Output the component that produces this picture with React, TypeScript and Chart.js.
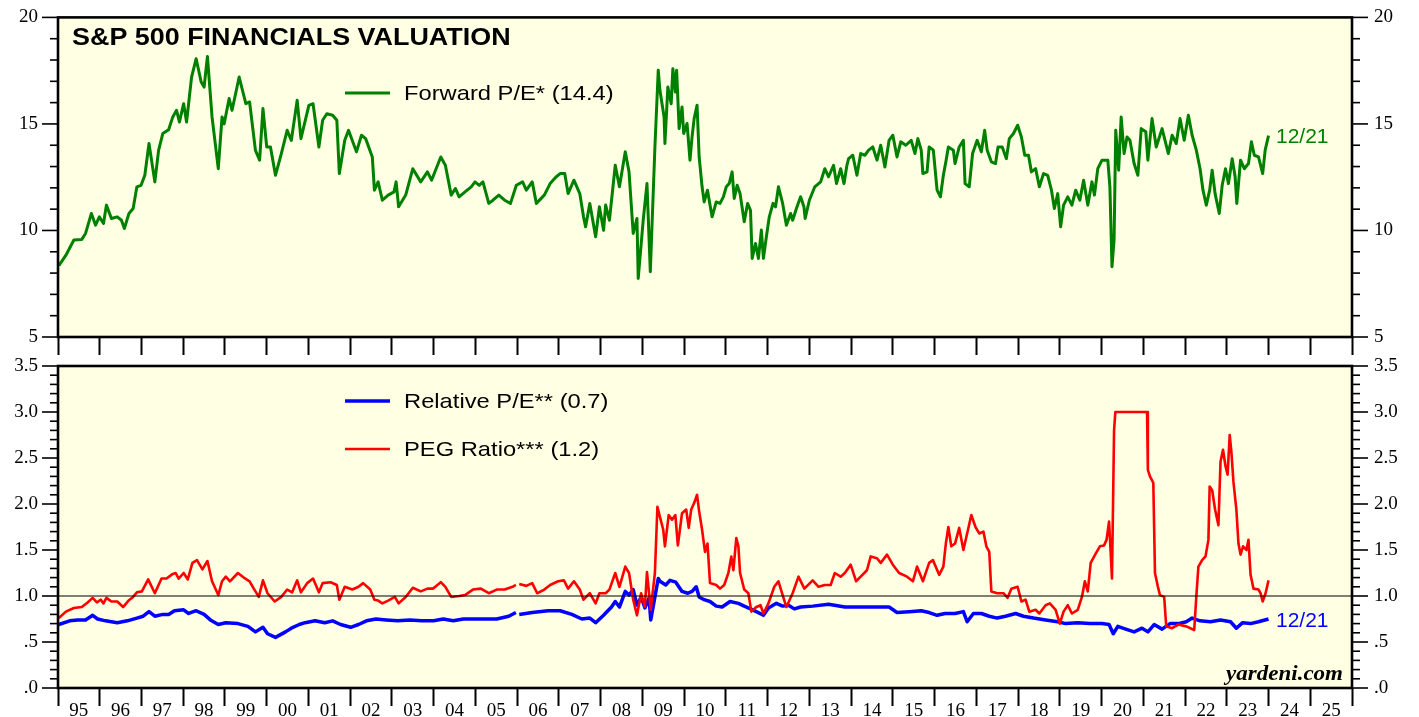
import { useEffect, useRef } from 'react';
import { Chart, registerables } from 'chart.js';

Chart.register(...registerables);

// ---------------- DATA ----------------
const yearTicks = [1995, 1996, 1997, 1998, 1999, 2000, 2001, 2002, 2003, 2004, 2005, 2006, 2007, 2008, 2009, 2010, 2011, 2012, 2013, 2014, 2015, 2016, 2017, 2018, 2019, 2020, 2021, 2022, 2023, 2024, 2025, 2026];
const yearLabels = ['95', '96', '97', '98', '99', '00', '01', '02', '03', '04', '05', '06', '07', '08', '09', '10', '11', '12', '13', '14', '15', '16', '17', '18', '19', '20', '21', '22', '23', '24', '25'];

const peTickLabels = ['5', '10', '15', '20'];
const ratioTickLabels = ['.0', '.5', '1.0', '1.5', '2.0', '2.5', '3.0', '3.5'];

const peDates = [
  1995.02, 1995.19, 1995.38, 1995.57, 1995.66, 1995.80, 1995.90, 1995.99, 1996.09, 1996.16,
  1996.28, 1996.42, 1996.52, 1996.59, 1996.70, 1996.80, 1996.89, 1996.99, 1997.08, 1997.18,
  1997.32, 1997.41, 1997.51, 1997.65, 1997.75, 1997.84, 1997.91, 1998.01, 1998.08, 1998.20,
  1998.31, 1998.43, 1998.50, 1998.58, 1998.69, 1998.84, 1998.93, 1998.98, 1999.10, 1999.17,
  1999.34, 1999.50, 1999.59, 1999.73, 1999.83, 1999.91, 2000.00, 2000.09, 2000.21, 2000.35,
  2000.49, 2000.59, 2000.73, 2000.82, 2001.01, 2001.11, 2001.25, 2001.34, 2001.44, 2001.58,
  2001.68, 2001.74, 2001.87, 2001.96, 2002.15, 2002.27, 2002.37, 2002.53, 2002.58, 2002.67,
  2002.77, 2002.91, 2003.05, 2003.10, 2003.16, 2003.33, 2003.50, 2003.69, 2003.85, 2003.95,
  2004.17, 2004.28, 2004.42, 2004.52, 2004.61, 2004.75, 2004.90, 2004.99, 2005.09, 2005.18,
  2005.32, 2005.42, 2005.56, 2005.70, 2005.84, 2005.98, 2006.13, 2006.22, 2006.36, 2006.46,
  2006.65, 2006.79, 2006.93, 2007.03, 2007.14, 2007.22, 2007.36, 2007.50, 2007.59, 2007.64,
  2007.74, 2007.88, 2007.97, 2008.07, 2008.12, 2008.21, 2008.35, 2008.45, 2008.59, 2008.68,
  2008.78, 2008.87, 2008.90, 2009.02, 2009.11, 2009.19, 2009.30, 2009.38, 2009.42, 2009.52,
  2009.54, 2009.61, 2009.69, 2009.73, 2009.79, 2009.82, 2009.88, 2009.95, 2009.99, 2010.07,
  2010.14, 2010.19, 2010.24, 2010.31, 2010.36, 2010.43, 2010.48, 2010.56, 2010.62, 2010.67,
  2010.77, 2010.86, 2010.94, 2011.01, 2011.08, 2011.15, 2011.20, 2011.27, 2011.34, 2011.44,
  2011.52, 2011.59, 2011.63, 2011.71, 2011.78, 2011.85, 2011.90, 2011.97, 2012.04, 2012.13,
  2012.19, 2012.26, 2012.36, 2012.45, 2012.55, 2012.60, 2012.69, 2012.79, 2012.87, 2012.90,
  2013.00, 2013.13, 2013.27, 2013.37, 2013.46, 2013.58, 2013.65, 2013.75, 2013.83, 2013.90,
  2013.94, 2014.04, 2014.14, 2014.23, 2014.33, 2014.42, 2014.52, 2014.62, 2014.71, 2014.81,
  2014.91, 2015.00, 2015.10, 2015.19, 2015.31, 2015.44, 2015.53, 2015.60, 2015.68, 2015.72,
  2015.82, 2015.87, 2015.97, 2016.06, 2016.14, 2016.21, 2016.27, 2016.33, 2016.45, 2016.49,
  2016.59, 2016.69, 2016.73, 2016.83, 2016.91, 2017.02, 2017.12, 2017.20, 2017.26, 2017.36,
  2017.46, 2017.52, 2017.62, 2017.72, 2017.79, 2017.89, 2017.99, 2018.08, 2018.16, 2018.25,
  2018.32, 2018.42, 2018.51, 2018.61, 2018.71, 2018.80, 2018.87, 2018.95, 2019.02, 2019.09,
  2019.19, 2019.29, 2019.38, 2019.48, 2019.57, 2019.67, 2019.77, 2019.83, 2019.91, 2020.01,
  2020.15, 2020.20, 2020.25, 2020.30, 2020.34, 2020.41, 2020.47, 2020.54, 2020.61, 2020.68,
  2020.78, 2020.87, 2020.95, 2021.06, 2021.11, 2021.21, 2021.31, 2021.45, 2021.60, 2021.69,
  2021.79, 2021.88, 2021.98, 2022.08, 2022.17, 2022.27, 2022.36, 2022.43, 2022.51, 2022.59,
  2022.65, 2022.72, 2022.82, 2022.89, 2022.97, 2023.04, 2023.13, 2023.20, 2023.24, 2023.33,
  2023.42, 2023.52, 2023.59, 2023.66, 2023.76, 2023.86, 2023.92, 2024.00,
];
const peValues = [
  8.35, 8.84, 9.55, 9.58, 9.86, 10.80, 10.25, 10.64, 10.33, 11.19,
  10.56, 10.64, 10.48, 10.09, 10.80, 11.03, 12.05, 12.12, 12.59, 14.08,
  12.28, 13.76, 14.55, 14.73, 15.33, 15.64, 15.09, 15.95, 15.09, 17.20,
  18.06, 16.97, 16.73, 18.17, 15.33, 12.90, 15.33, 15.00, 16.19, 15.64,
  17.20, 15.95, 16.03, 13.76, 13.30, 15.72, 13.92, 13.92, 12.59, 13.61,
  14.70, 14.23, 16.11, 14.31, 15.87, 15.95, 13.92, 15.17, 15.48, 15.41,
  15.17, 12.67, 14.23, 14.70, 13.69, 14.47, 14.31, 13.45, 11.89, 12.28,
  11.42, 11.66, 11.81, 12.28, 11.11, 11.66, 12.90, 12.28, 12.75, 12.36,
  13.45, 13.06, 11.66, 11.97, 11.58, 11.81, 12.05, 12.28, 12.12, 12.28,
  11.27, 11.42, 11.66, 11.42, 11.27, 12.12, 12.28, 11.89, 12.28, 11.27,
  11.66, 12.20, 12.51, 12.67, 12.67, 11.73, 12.36, 11.73, 10.64, 10.17,
  11.27, 9.70, 11.11, 10.01, 11.19, 10.48, 13.06, 12.05, 13.69, 12.75,
  9.86, 10.56, 7.75, 10.48, 12.20, 8.06, 13.92, 17.52, 16.58, 15.33,
  14.08, 16.73, 15.95, 17.59, 16.50, 17.52, 14.78, 15.80, 14.55, 15.02,
  13.30, 14.39, 15.25, 15.88, 13.45, 12.05, 11.34, 11.89, 11.19, 10.64,
  11.34, 11.27, 11.58, 12.05, 12.20, 12.75, 11.50, 12.12, 11.73, 10.41,
  11.27, 10.95, 8.69, 9.39, 8.69, 10.02, 8.69, 9.70, 10.64, 11.27,
  11.11, 12.05, 11.27, 10.25, 10.80, 10.48, 11.03, 11.58, 11.11, 10.56,
  11.42, 12.05, 12.28, 12.90, 12.52, 13.06, 12.20, 12.90, 12.20, 13.06,
  13.37, 13.53, 12.59, 13.61, 13.53, 13.77, 13.92, 13.30, 14.00, 12.98,
  14.23, 14.47, 13.45, 14.16, 14.00, 14.23, 13.61, 14.31, 13.77, 12.67,
  12.75, 13.92, 13.77, 11.89, 11.58, 12.59, 13.22, 13.92, 13.77, 13.14,
  13.92, 14.23, 12.20, 12.05, 13.61, 14.23, 13.69, 14.70, 13.77, 13.22,
  13.14, 13.92, 13.92, 13.37, 14.31, 14.55, 14.94, 14.39, 13.53, 13.53,
  12.75, 12.90, 12.05, 12.67, 12.59, 11.89, 11.03, 11.73, 10.17, 11.19,
  11.58, 11.19, 11.89, 11.42, 12.36, 11.19, 12.28, 11.66, 12.90, 13.30,
  13.30, 12.05, 8.30, 9.55, 14.70, 12.83, 15.33, 13.61, 14.39, 14.23,
  13.14, 12.59, 14.78, 14.63, 13.30, 15.25, 13.92, 14.78, 13.61, 14.47,
  14.08, 15.25, 14.23, 15.41, 14.47, 13.77, 12.90, 11.89, 11.19, 11.89,
  12.83, 11.73, 10.80, 12.12, 12.90, 12.20, 13.37, 12.52, 11.27, 13.30,
  12.90, 13.14, 14.16, 13.53, 13.45, 12.67, 13.77, 14.45,
];

const relDates = [
  1995.02, 1995.28, 1995.47, 1995.66, 1995.83, 1995.95, 1996.14, 1996.42, 1996.66, 1996.89,
  1997.04, 1997.18, 1997.32, 1997.51, 1997.65, 1997.79, 1998.01, 1998.13, 1998.31, 1998.50,
  1998.65, 1998.84, 1999.02, 1999.31, 1999.55, 1999.73, 1999.91, 2000.02, 2000.21, 2000.45,
  2000.59, 2000.78, 2000.92, 2001.16, 2001.39, 2001.58, 2001.77, 2002.01, 2002.20, 2002.39,
  2002.62, 2002.86, 2003.14, 2003.43, 2003.71, 2004.00, 2004.23, 2004.47, 2004.71, 2004.94,
  2005.23, 2005.51, 2005.80, 2005.97, 2006.02, 2006.05, 2006.36, 2006.74, 2007.03, 2007.31,
  2007.55, 2007.74, 2007.88, 2008.07, 2008.26, 2008.35, 2008.45, 2008.59, 2008.68, 2008.78,
  2008.87, 2008.97, 2009.06, 2009.16, 2009.20, 2009.30, 2009.38, 2009.42, 2009.56, 2009.66,
  2009.80, 2009.95, 2010.09, 2010.19, 2010.29, 2010.36, 2010.48, 2010.62, 2010.77, 2010.91,
  2011.10, 2011.30, 2011.44, 2011.59, 2011.73, 2011.90, 2012.02, 2012.21, 2012.36, 2012.50,
  2012.64, 2012.79, 2013.08, 2013.46, 2013.85, 2014.23, 2014.62, 2014.91, 2015.10, 2015.39,
  2015.68, 2015.87, 2016.06, 2016.25, 2016.49, 2016.69, 2016.78, 2016.93, 2017.12, 2017.31,
  2017.50, 2017.70, 2017.94, 2018.13, 2018.37, 2018.66, 2018.95, 2019.14, 2019.43, 2019.72,
  2020.01, 2020.18, 2020.28, 2020.39, 2020.58, 2020.78, 2020.97, 2021.11, 2021.26, 2021.45,
  2021.64, 2021.84, 2022.03, 2022.17, 2022.36, 2022.61, 2022.85, 2023.09, 2023.23, 2023.38,
  2023.57, 2023.76, 2024.00,
];
const relValues = [
  0.69, 0.73, 0.74, 0.74, 0.79, 0.75, 0.73, 0.71, 0.73, 0.76,
  0.78, 0.83, 0.78, 0.80, 0.80, 0.84, 0.85, 0.81, 0.84, 0.80,
  0.74, 0.69, 0.71, 0.70, 0.67, 0.61, 0.66, 0.59, 0.55, 0.61,
  0.65, 0.69, 0.71, 0.73, 0.71, 0.73, 0.69, 0.66, 0.69, 0.73,
  0.75, 0.74, 0.73, 0.74, 0.73, 0.73, 0.75, 0.73, 0.75, 0.75,
  0.75, 0.75, 0.78, 0.82, null, 0.80, 0.82, 0.84, 0.84, 0.80,
  0.75, 0.76, 0.71, 0.79, 0.88, 0.94, 0.88, 1.05, 1.01, 1.07,
  0.90, 0.99, 0.87, 0.98, 0.74, 0.99, 1.19, 1.16, 1.12, 1.17,
  1.15, 1.05, 1.03, 1.05, 1.10, 0.99, 0.96, 0.94, 0.89, 0.88,
  0.94, 0.92, 0.89, 0.86, 0.83, 0.79, 0.87, 0.92, 0.89, 0.90,
  0.86, 0.88, 0.89, 0.91, 0.88, 0.88, 0.88, 0.88, 0.82, 0.83,
  0.84, 0.82, 0.79, 0.81, 0.81, 0.83, 0.72, 0.81, 0.81, 0.78,
  0.76, 0.78, 0.81, 0.78, 0.76, 0.74, 0.72, 0.70, 0.71, 0.70,
  0.70, 0.69, 0.59, 0.67, 0.64, 0.61, 0.65, 0.61, 0.69, 0.64,
  0.70, 0.70, 0.72, 0.76, 0.73, 0.72, 0.74, 0.72, 0.65, 0.71,
  0.70, 0.72, 0.75,
];

const pegDates = [
  1995.02, 1995.19, 1995.38, 1995.57, 1995.71, 1995.83, 1995.93, 1996.02, 1996.09, 1996.16,
  1996.28, 1996.42, 1996.56, 1996.69, 1996.80, 1996.89, 1997.01, 1997.16, 1997.32, 1997.48,
  1997.60, 1997.75, 1997.82, 1997.89, 1998.01, 1998.11, 1998.22, 1998.33, 1998.46, 1998.58,
  1998.69, 1998.84, 1998.93, 1999.02, 1999.12, 1999.31, 1999.45, 1999.59, 1999.69, 1999.81,
  1999.91, 2000.02, 2000.19, 2000.35, 2000.49, 2000.61, 2000.73, 2000.82, 2000.97, 2001.11,
  2001.25, 2001.34, 2001.53, 2001.68, 2001.74, 2001.87, 2002.05, 2002.20, 2002.31, 2002.48,
  2002.58, 2002.67, 2002.77, 2002.91, 2003.07, 2003.16, 2003.33, 2003.50, 2003.69, 2003.85,
  2003.98, 2004.17, 2004.28, 2004.42, 2004.61, 2004.75, 2004.94, 2005.13, 2005.32, 2005.51,
  2005.70, 2005.89, 2005.97, 2006.02, 2006.05, 2006.22, 2006.36, 2006.48, 2006.65, 2006.79,
  2006.98, 2007.12, 2007.22, 2007.36, 2007.50, 2007.59, 2007.74, 2007.88, 2007.97, 2008.12,
  2008.21, 2008.35, 2008.45, 2008.59, 2008.68, 2008.78, 2008.87, 2008.97, 2009.06, 2009.11,
  2009.20, 2009.30, 2009.36, 2009.42, 2009.50, 2009.54, 2009.63, 2009.71, 2009.79, 2009.85,
  2009.95, 2010.05, 2010.11, 2010.17, 2010.24, 2010.31, 2010.36, 2010.43, 2010.50, 2010.56,
  2010.62, 2010.77, 2010.86, 2010.96, 2011.06, 2011.13, 2011.18, 2011.25, 2011.30, 2011.34,
  2011.44, 2011.54, 2011.61, 2011.73, 2011.83, 2011.90, 2012.02, 2012.16, 2012.26, 2012.36,
  2012.45, 2012.60, 2012.74, 2012.88, 2013.08, 2013.22, 2013.37, 2013.51, 2013.61, 2013.75,
  2013.85, 2013.99, 2014.12, 2014.23, 2014.38, 2014.47, 2014.62, 2014.71, 2014.86, 2015.00,
  2015.15, 2015.34, 2015.48, 2015.58, 2015.72, 2015.87, 2015.96, 2016.11, 2016.21, 2016.27,
  2016.33, 2016.40, 2016.49, 2016.59, 2016.69, 2016.78, 2016.88, 2016.98, 2017.07, 2017.17,
  2017.24, 2017.31, 2017.36, 2017.50, 2017.65, 2017.75, 2017.84, 2017.99, 2018.08, 2018.18,
  2018.27, 2018.42, 2018.51, 2018.66, 2018.76, 2018.90, 2019.00, 2019.09, 2019.19, 2019.29,
  2019.43, 2019.53, 2019.60, 2019.67, 2019.74, 2019.86, 2019.96, 2020.06, 2020.12, 2020.18,
  2020.25, 2020.30, 2020.33, 2021.09, 2021.11, 2021.16, 2021.24, 2021.28, 2021.35, 2021.40,
  2021.50, 2021.55, 2021.69, 2021.84, 2022.03, 2022.22, 2022.27, 2022.32, 2022.41, 2022.49,
  2022.56, 2022.59, 2022.65, 2022.72, 2022.80, 2022.85, 2022.91, 2022.97, 2023.02, 2023.07,
  2023.11, 2023.16, 2023.23, 2023.28, 2023.33, 2023.39, 2023.47, 2023.52, 2023.57, 2023.64,
  2023.76, 2023.81, 2023.86, 2023.93, 2024.00,
];
const pegValues = [
  0.76, 0.83, 0.87, 0.88, 0.93, 0.98, 0.93, 0.96, 0.92, 0.98,
  0.94, 0.94, 0.88, 0.95, 0.99, 1.04, 1.05, 1.18, 1.03, 1.19,
  1.19, 1.24, 1.25, 1.19, 1.25, 1.18, 1.36, 1.39, 1.29, 1.38,
  1.16, 1.01, 1.16, 1.21, 1.16, 1.25, 1.20, 1.16, 1.08, 0.99,
  1.17, 1.03, 0.94, 0.99, 1.07, 1.04, 1.17, 1.04, 1.14, 1.19,
  1.04, 1.14, 1.15, 1.12, 0.96, 1.10, 1.07, 1.10, 1.14, 1.07,
  0.96, 0.95, 0.92, 0.95, 0.99, 0.92, 0.99, 1.09, 1.05, 1.08,
  1.08, 1.15, 1.10, 0.99, 1.00, 1.01, 1.07, 1.08, 1.03, 1.07,
  1.07, 1.10, 1.12, null, 1.13, 1.11, 1.14, 1.03, 1.07, 1.12,
  1.16, 1.17, 1.08, 1.16, 1.07, 0.96, 1.03, 0.92, 1.03, 1.03,
  1.07, 1.25, 1.10, 1.32, 1.25, 0.96, 0.79, 1.03, 0.88, 1.26,
  0.85, 1.25, 1.97, 1.86, 1.72, 1.54, 1.88, 1.83, 1.88, 1.55,
  1.90, 1.94, 1.74, 1.94, 2.01, 2.10, 1.92, 1.72, 1.48, 1.57,
  1.14, 1.12, 1.08, 1.12, 1.25, 1.43, 1.28, 1.63, 1.54, 1.25,
  1.07, 1.03, 0.83, 0.88, 0.90, 0.81, 0.92, 1.10, 1.16, 1.01,
  0.88, 1.03, 1.21, 1.08, 1.17, 1.10, 1.12, 1.12, 1.25, 1.21,
  1.25, 1.34, 1.16, 1.21, 1.28, 1.43, 1.41, 1.36, 1.45, 1.34,
  1.25, 1.21, 1.16, 1.32, 1.16, 1.36, 1.39, 1.23, 1.32, 1.57,
  1.75, 1.54, 1.57, 1.74, 1.50, 1.68, 1.88, 1.75, 1.68, 1.70,
  1.54, 1.48, 1.05, 1.03, 1.03, 0.98, 1.08, 1.10, 0.94, 0.96,
  0.83, 0.85, 0.81, 0.90, 0.92, 0.85, 0.70, 0.83, 0.90, 0.81,
  0.85, 0.99, 1.16, 1.05, 1.36, 1.46, 1.54, 1.55, 1.61, 1.81,
  1.19, 2.80, 3.00, 3.00, 2.37, 2.30, 2.23, 1.25, 1.10, 1.01,
  0.99, 0.67, 0.65, 0.69, 0.67, 0.63, 0.99, 1.32, 1.39, 1.43,
  1.61, 2.19, 2.15, 1.94, 1.77, 2.46, 2.59, 2.41, 2.32, 2.75,
  2.57, 2.24, 1.94, 1.57, 1.45, 1.54, 1.50, 1.61, 1.23, 1.08,
  1.07, 1.03, 0.94, 1.03, 1.17,
];

// ---------------- LAYOUT / STYLE ----------------
const W = 1419;
const H = 717;
const PLOT_LEFT = 58;
const PLOT_RIGHT = 1352;
const TOP1 = 17;
const BOT1 = 337;
const TOP2 = 366;
const BOT2 = 688;
const BG = '#FFFFE3';
const GREEN = '#008000';
const BLUE = '#0000FF';
const RED = '#FF0000';
const YEAR_PX = (PLOT_RIGHT - PLOT_LEFT) / (yearTicks.length - 1);
const SERIF = '"Liberation Serif", "Times New Roman", serif';
const SANS = '"Liberation Sans", Arial, sans-serif';

const toPoints = (xs: number[], ys: (number | null)[]) => xs.map((x, i) => ({ x, y: ys[i] }));

function drawScaledText(ctx: CanvasRenderingContext2D, text: string, x: number, y: number, font: string, color: string, sx: number, align: CanvasTextAlign, baseline: CanvasTextBaseline) {
  ctx.save();
  ctx.font = font;
  ctx.fillStyle = color;
  ctx.textAlign = align;
  ctx.textBaseline = baseline;
  ctx.translate(x, y);
  ctx.scale(sx, 1);
  ctx.fillText(text, 0, 0);
  ctx.restore();
}

const panelPlugin = {
  id: 'panel',
  beforeDraw(chart: any) {
    const { ctx, chartArea: a } = chart;
    ctx.save();
    ctx.fillStyle = BG;
    ctx.fillRect(a.left, a.top, a.right - a.left, a.bottom - a.top);
    ctx.restore();
  },
  afterDatasetsDraw(chart: any, _args: any, opts: any) {
    if (opts.refLine === undefined || opts.refLine === null) return;
    const { ctx, chartArea: a } = chart;
    const py = chart.scales.y.getPixelForValue(opts.refLine);
    ctx.save();
    ctx.strokeStyle = '#000';
    ctx.lineWidth = 1.2;
    ctx.beginPath();
    ctx.moveTo(a.left, py);
    ctx.lineTo(a.right, py);
    ctx.stroke();
    ctx.restore();
  },
  afterDraw(chart: any, _args: any, opts: any) {
    const { ctx, chartArea: a } = chart;
    ctx.save();
    ctx.strokeStyle = '#000';
    ctx.lineWidth = 1.6;
    for (const id of ['y', 'y2']) {
      const s = chart.scales[id];
      const n = Math.round((s.max - s.min) / opts.minorStep);
      for (let i = 0; i <= n; i++) {
        const v = s.min + i * opts.minorStep;
        const r = v / opts.majorStep;
        const isMajor = Math.abs(r - Math.round(r)) < 1e-6;
        const len = isMajor ? 16 : 8;
        const py = s.getPixelForValue(v);
        ctx.beginPath();
        if (id === 'y') {
          ctx.moveTo(a.left - len, py);
          ctx.lineTo(a.left, py);
        } else {
          ctx.moveTo(a.right, py);
          ctx.lineTo(a.right + len, py);
        }
        ctx.stroke();
      }
    }
    ctx.lineWidth = 2.6;
    ctx.strokeRect(a.left, a.top, a.right - a.left, a.bottom - a.top);
    ctx.restore();

    if (opts.title) {
      drawScaledText(ctx, opts.title.text, opts.title.x, opts.title.y, `bold 23px ${SANS}`, '#000', opts.title.sx, 'left', 'alphabetic');
    }
    for (const L of opts.legend || []) {
      const ds = chart.data.datasets[L.dataset];
      ctx.save();
      ctx.strokeStyle = ds.borderColor;
      ctx.lineWidth = ds.borderWidth;
      ctx.beginPath();
      ctx.moveTo(345, L.y);
      ctx.lineTo(390, L.y);
      ctx.stroke();
      ctx.restore();
      drawScaledText(ctx, ds.label, 404, L.y + 1, `21px ${SANS}`, '#000', 1.13, 'left', 'middle');
    }
    for (const E of opts.endLabels || []) {
      const meta = chart.getDatasetMeta(E.dataset);
      const pt = meta.data[meta.data.length - 1];
      const ds = chart.data.datasets[E.dataset];
      drawScaledText(ctx, E.text, 1276, pt.y + 2, `21px ${SANS}`, ds.borderColor, 1.0, 'left', 'middle');
    }
    if (opts.source) {
      drawScaledText(ctx, opts.source, 1343, 680, `italic bold 20px ${SERIF}`, '#000', 1.15, 'right', 'alphabetic');
    }
  },
};

const yTickFont = { family: SERIF, size: 19 };

function valueAxis(position: 'left' | 'right', min: number, max: number, step: number, labels: string[]) {
  return {
    type: 'linear',
    position,
    min,
    max,
    afterFit: (s: any) => {
      s.width = position === 'left' ? PLOT_LEFT : W - PLOT_RIGHT;
    },
    ticks: {
      stepSize: step,
      autoSkip: false,
      font: yTickFont,
      color: '#000',
      padding: position === 'left' ? 4 : 6,
      callback: (_v: any, i: number) => labels[i],
    },
    grid: { drawOnChartArea: false, drawTicks: true, tickLength: 16, tickColor: 'rgba(0,0,0,0)' },
    border: { display: false },
  };
}

function yearAxis(showLabels: boolean, height: number) {
  return {
    type: 'linear',
    position: 'bottom',
    min: yearTicks[0],
    max: yearTicks[yearTicks.length - 1],
    afterBuildTicks: (s: any) => {
      s.ticks = yearTicks.map((v) => ({ value: v }));
    },
    afterFit: (s: any) => {
      s.height = height;
    },
    grid: { drawOnChartArea: false, drawTicks: true, tickLength: 18, tickColor: '#000', tickWidth: 2 },
    border: { display: false },
    ticks: {
      display: showLabels,
      autoSkip: false,
      maxRotation: 0,
      minRotation: 0,
      labelOffset: YEAR_PX / 2,
      padding: -4,
      font: { family: SERIF, size: 19, lineHeight: 1 },
      color: '#000',
      callback: (_v: any, i: number) => yearLabels[i] ?? '',
    },
  };
}

export default function App() {
  const topRef = useRef<HTMLCanvasElement | null>(null);
  const botRef = useRef<HTMLCanvasElement | null>(null);

  useEffect(() => {
    const common = {
      responsive: false,
      maintainAspectRatio: false,
      animation: false,
      devicePixelRatio: 1,
      events: [],
    };
    const top = new Chart(topRef.current as HTMLCanvasElement, {
      type: 'line',
      data: {
        datasets: [
          {
            label: 'Forward P/E* (14.4)',
            data: toPoints(peDates, peValues),
            borderColor: GREEN,
            borderWidth: 3,
            pointRadius: 0,
            tension: 0,
            borderJoinStyle: 'round',
          },
        ],
      },
      options: {
        ...common,
        layout: { padding: { top: TOP1, bottom: H - BOT1 - 20, left: 0, right: 0 } },
        scales: {
          x: yearAxis(false, 20),
          y: valueAxis('left', 5, 20, 5, peTickLabels),
          y2: valueAxis('right', 5, 20, 5, peTickLabels),
        },
        plugins: {
          legend: { display: false },
          tooltip: { enabled: false },
          panel: {
            minorStep: 1,
            majorStep: 5,
            title: { text: 'S&P 500 FINANCIALS VALUATION', x: 72, y: 45, sx: 1.17 },
            legend: [{ dataset: 0, y: 93 }],
            endLabels: [{ dataset: 0, text: '12/21' }],
          },
        },
      } as any,
      plugins: [panelPlugin],
    } as any);

    const bottom = new Chart(botRef.current as HTMLCanvasElement, {
      type: 'line',
      data: {
        datasets: [
          {
            label: 'Relative P/E** (0.7)',
            data: toPoints(relDates, relValues),
            borderColor: BLUE,
            borderWidth: 3.5,
            pointRadius: 0,
            tension: 0,
            order: 1,
            borderJoinStyle: 'round',
          },
          {
            label: 'PEG Ratio*** (1.2)',
            data: toPoints(pegDates, pegValues),
            borderColor: RED,
            borderWidth: 2.6,
            pointRadius: 0,
            tension: 0,
            order: 0,
            borderJoinStyle: 'round',
          },
        ],
      },
      options: {
        ...common,
        layout: { padding: { top: TOP2, bottom: 0, left: 0, right: 0 } },
        scales: {
          x: yearAxis(true, H - BOT2),
          y: valueAxis('left', 0, 3.5, 0.5, ratioTickLabels),
          y2: valueAxis('right', 0, 3.5, 0.5, ratioTickLabels),
        },
        plugins: {
          legend: { display: false },
          tooltip: { enabled: false },
          panel: {
            minorStep: 0.1,
            majorStep: 0.5,
            refLine: 1.0,
            legend: [
              { dataset: 0, y: 401 },
              { dataset: 1, y: 449 },
            ],
            endLabels: [{ dataset: 0, text: '12/21' }],
            source: 'yardeni.com',
          },
        },
      } as any,
      plugins: [panelPlugin],
    } as any);

    return () => {
      top.destroy();
      bottom.destroy();
    };
  }, []);

  const canvasStyle: React.CSSProperties = { position: 'absolute', left: 0, top: 0, width: W, height: H };
  return (
    <div style={{ position: 'fixed', left: 0, top: 0, width: W, height: H, background: '#fff', overflow: 'hidden' }}>
      <canvas ref={topRef} width={W} height={H} style={canvasStyle} />
      <canvas ref={botRef} width={W} height={H} style={canvasStyle} />
    </div>
  );
}
